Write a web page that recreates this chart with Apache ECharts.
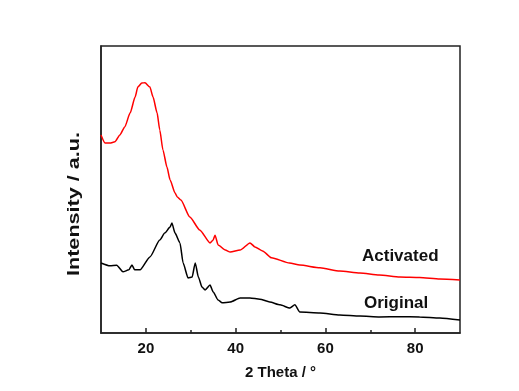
<!DOCTYPE html>
<html>
<head>
<meta charset="utf-8">
<script src="https://cdn.jsdelivr.net/npm/echarts@6/dist/echarts.min.js"></script>
<style>html,body{margin:0;padding:0;background:#fff;}#c{width:519px;height:391px;}</style>
</head>
<body>
<div id="c"></div>
<script>
const actTheta = [10, 10.9, 12, 13.1, 14.2, 15.3, 16.5, 17.6, 18.2, 19.1, 19.8, 20.9, 21.6, 22.5, 23.1, 23.8, 24.7, 25.4, 26.5, 27, 27.8, 29.8, 32, 34.3, 35, 35.4, 36.1, 37.7, 38.8, 41, 43.2, 44.3, 46, 48, 52, 54.3, 58.8, 63.2, 67.7, 72, 76.6, 81, 85.5, 90];
const actIntensity = [69.0, 66.2, 66.2, 66.6, 69.0, 71.8, 76.7, 82.2, 85.7, 87.1, 87.2, 85.7, 82.2, 76.7, 70.7, 63.8, 57.8, 53.3, 48.8, 47.4, 46.3, 40.4, 35.9, 31.4, 32.4, 34.1, 30.7, 28.9, 28.2, 28.9, 31.4, 30.0, 28.6, 26.2, 24.4, 23.7, 22.7, 21.6, 20.9, 20.2, 19.5, 19.3, 18.8, 18.5];
const origTheta = [10, 12, 13.5, 14.9, 16.2, 16.9, 17.5, 18.7, 20.9, 23.1, 24.2, 25.4, 25.8, 26.5, 27.6, 28.3, 29.4, 30.3, 31, 31.7, 32.5, 33.2, 34.3, 35, 36.1, 37, 38.8, 41, 43.2, 45.4, 47.6, 49.9, 52.1, 53.2, 54.3, 58.8, 63.2, 67.7, 72.1, 76.6, 81, 85.5, 90];
const origIntensity = [24.4, 23.4, 23.6, 21.3, 22.0, 23.7, 22.0, 22.0, 26.5, 32.4, 34.8, 36.9, 38.3, 34.8, 31.4, 24.4, 19.2, 19.5, 24.4, 19.5, 16.0, 15.0, 16.7, 14.3, 11.5, 10.5, 10.8, 12.2, 12.2, 11.8, 10.8, 9.8, 8.7, 9.8, 7.3, 7.0, 6.3, 5.9, 5.6, 5.7, 5.6, 5.2, 4.5];
const majorTicks = [20, 40, 60, 80];
const minorTicks = [30, 50, 70];
const seriesNames = ['Activated', 'Original'];
const xTitle = '2 Theta / °';
const yTitle = 'Intensity / a.u.';

const pair = (xs, ys) => xs.map((x, i) => [x, ys[i]]);
const chart = echarts.init(document.getElementById('c'));
const font = 'Arial, "Liberation Sans", sans-serif';
chart.setOption({
  backgroundColor: '#fff',
  animation: false,
  grid: { left: 101, right: 59, top: 46, bottom: 58, show: true, borderColor: '#222', borderWidth: 1.5, backgroundColor: 'transparent' },
  xAxis: [{
    type: 'value', min: 10, max: 90, interval: 10,
    name: xTitle, nameLocation: 'middle', nameGap: 32,
    nameTextStyle: { fontFamily: font, fontWeight: 'bold', fontSize: 15, color: '#111' },
    axisLine: { show: true, lineStyle: { color: '#222', width: 1.5 } },
    axisTick: { show: true, inside: true, length: 5, customValues: majorTicks, lineStyle: { color: '#222', width: 1.5 } },
    axisLabel: { show: true, customValues: majorTicks, margin: 8, fontFamily: font, fontWeight: 'bold', fontSize: 15, color: '#111' },
    splitLine: { show: false }
  }, {
    type: 'value', min: 10, max: 90, interval: 10, position: 'bottom',
    axisLine: { show: false },
    axisTick: { show: true, inside: true, length: 3, customValues: minorTicks, lineStyle: { color: '#222', width: 1.5 } },
    axisLabel: { show: false },
    splitLine: { show: false }
  }],
  yAxis: {
    type: 'value', min: 0, max: 100,
    axisLine: { show: true, lineStyle: { color: '#222', width: 1.5 } },
    axisTick: { show: false }, axisLabel: { show: false }, splitLine: { show: false }
  },
  series: [
    { name: seriesNames[0], type: 'line', data: pair(actTheta, actIntensity), showSymbol: false, smooth: 0.2, smoothMonotone: 'x', lineStyle: { color: '#ff0000', width: 1.5 }, itemStyle: { color: '#ff0000' } },
    { name: seriesNames[1], type: 'line', data: pair(origTheta, origIntensity), showSymbol: false, smooth: 0.2, smoothMonotone: 'x', lineStyle: { color: '#000', width: 1.5 }, itemStyle: { color: '#000' } }
  ],
  graphic: [
    { type: 'text', x: 75, y: 204, rotation: Math.PI / 2, scaleX: 1.35, style: { text: yTitle, font: 'bold 16px ' + font, fill: '#111', align: 'center', verticalAlign: 'middle' } },
    { type: 'text', left: 362, top: 248, style: { text: seriesNames[0], font: 'bold 17px ' + font, fill: '#111' } },
    { type: 'text', left: 364, top: 295, style: { text: seriesNames[1], font: 'bold 17px ' + font, fill: '#111' } }
  ]
});
</script>
</body>
</html>
